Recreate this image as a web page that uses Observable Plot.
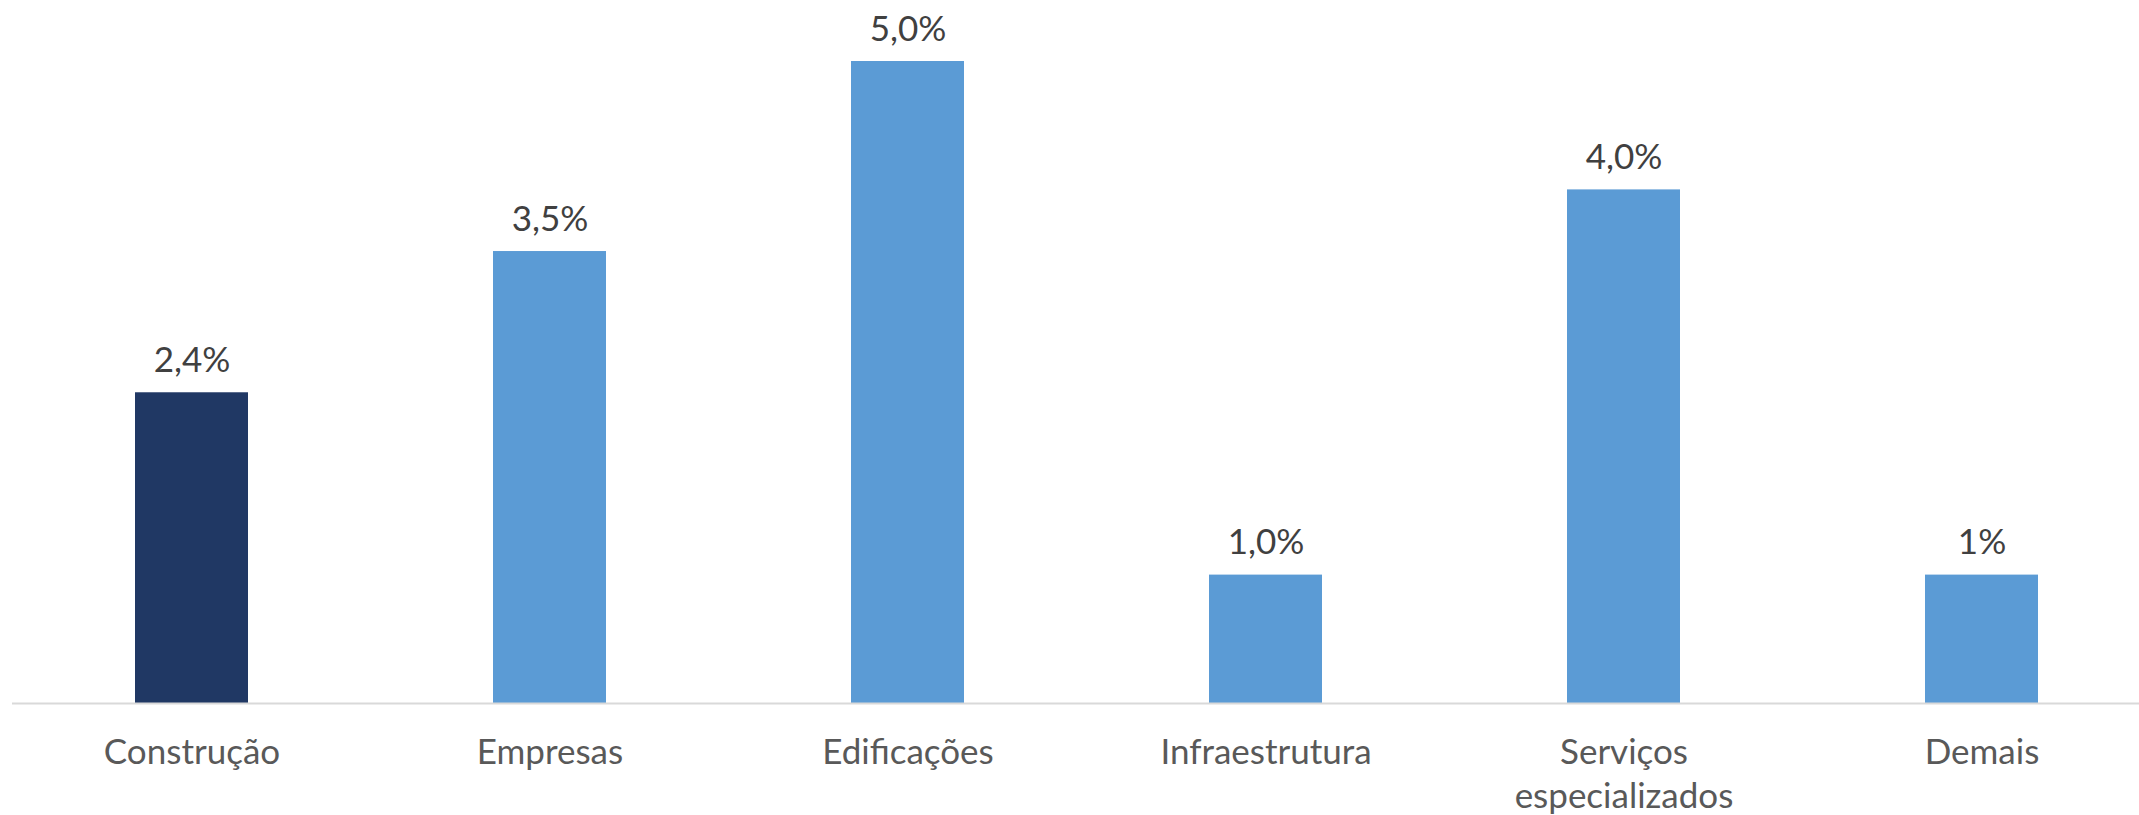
<!DOCTYPE html>
<html>
<head>
<meta charset="utf-8">
<script src="https://cdn.jsdelivr.net/npm/d3@7"></script>
<script src="https://cdn.jsdelivr.net/npm/@observablehq/plot@0.6"></script>
<style>
  html, body { margin: 0; padding: 0; background: #fff; }
  #chart svg { display: block; }
</style>
</head>
<body>
<div id="chart"></div>
<script>
const categories = ["Construção", "Empresas", "Edificações", "Infraestrutura", "Serviços\nespecializados", "Demais"];
const values = [2.42, 3.52, 5.0, 1.0, 4.0, 1.0];
const valueLabels = ["2,4%", "3,5%", "5,0%", "1,0%", "4,0%", "1%"];
const highlight = "Construção";

const data = categories.map((c, i) => ({cat: c, value: values[i], label: valueLabels[i]}));

const chart = Plot.plot({
  width: 2139,
  height: 815,
  marginLeft: 12,
  marginRight: 0,
  marginTop: 61,
  marginBottom: 112,
  style: {fontFamily: "Lato, sans-serif", background: "#fff"},
  x: {domain: categories, range: [12.5, 2160.5], paddingInner: 0.684, paddingOuter: 0.342, label: null},
  y: {domain: [0, 5], label: null},
  marks: [
    Plot.barY(data, {x: "cat", y: "value", fill: d => d.cat === highlight ? "#203864" : "#5B9BD5"}),
    Plot.ruleY([0], {stroke: "#d9d9d9", strokeWidth: 2}),
    Plot.text(data, {x: "cat", y: "value", text: "label", dy: -21, lineAnchor: "bottom", fontSize: 35, fill: "#404040"}),
    Plot.axisX({tickSize: 0, tickPadding: 0, fontSize: 35, fill: "#595959", lineHeight: 1.26, dy: 29}),
    Plot.axisY({ticks: []})
  ]
});
document.getElementById("chart").appendChild(chart);
</script>
</body>
</html>
